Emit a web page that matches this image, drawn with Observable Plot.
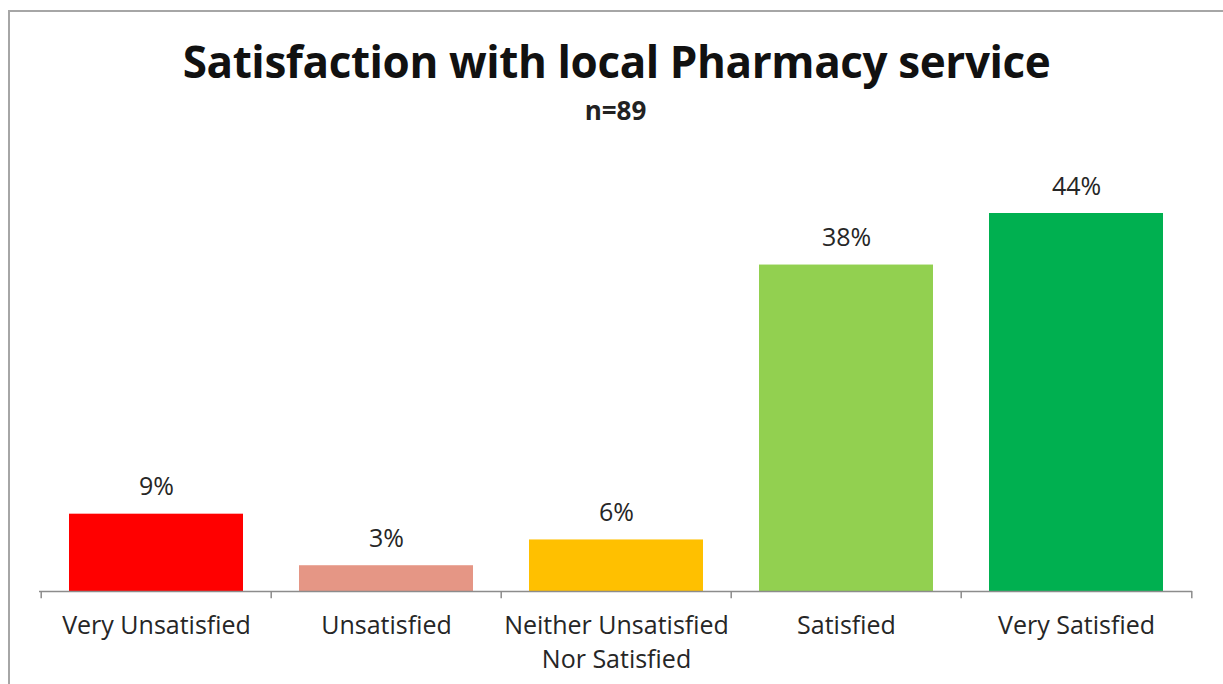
<!DOCTYPE html>
<html>
<head>
<meta charset="utf-8">
<script src="https://cdn.jsdelivr.net/npm/d3@7"></script>
<script src="https://cdn.jsdelivr.net/npm/@observablehq/plot@0.6"></script>
<style>
  html, body { margin: 0; padding: 0; background: #fff; }
  #wrap { position: relative; width: 1223px; height: 684px; overflow: hidden; font-family: "Open Sans", sans-serif; }
  #frame { position: absolute; left: 8px; top: 10px; width: 1300px; height: 800px; border-left: 2px solid #a6a6a6; border-top: 2px solid #a6a6a6; }
  #title { position: absolute; left: 0; width: 1233px; top: 39px; text-align: center; font-family: "Open Sans", sans-serif; font-weight: 700; font-size: 44px; color: #111; letter-spacing: -0.4px; line-height: 1; }
  #subtitle { position: absolute; left: 0; width: 1231px; top: 97px; text-align: center; font-family: "Open Sans", sans-serif; font-weight: 700; font-size: 26px; color: #222; line-height: 1; }
  #chart { position: absolute; left: 0; top: 140px; }
</style>
</head>
<body>
<div id="wrap">
  <div id="frame"></div>
  <div id="title">Satisfaction with local Pharmacy service</div>
  <div id="subtitle">n=89</div>
  <div id="chart"></div>
</div>
<script>
const categories = ["Very Unsatisfied", "Unsatisfied", "Neither Unsatisfied\nNor Satisfied", "Satisfied", "Very Satisfied"];
const values = [9, 3, 6, 38, 44];
const colors = ["#FF0000", "#E59685", "#FFC000", "#92D050", "#00B050"];

const data = categories.map((c, i) => ({category: c, value: values[i], color: colors[i]}));

const W = 1223, H = 544;
const mL = 39, mR = 31;
const step = (W - mL - mR) / categories.length;

const chart = Plot.plot({
  width: W,
  height: H,
  marginLeft: mL,
  marginRight: mR,
  marginTop: 73,
  marginBottom: 93,
  style: {fontFamily: "Open Sans, sans-serif", background: "transparent"},
  x: {domain: categories, paddingInner: 0.245, paddingOuter: 0.1225, label: null},
  y: {domain: [0, 44], axis: null},
  marks: [
    Plot.barY(data, {x: "category", y: "value", fill: "color"}),
    Plot.ruleY([0], {stroke: "#8c8c8c", strokeWidth: 1.5}),
    Plot.ruleX(categories, {x: d => d, dx: -step / 2, y1: 0, y2: -0.85, stroke: "#8c8c8c", strokeWidth: 1.5}),
    Plot.ruleX([categories[categories.length - 1]], {x: d => d, dx: step / 2, y1: 0, y2: -0.85, stroke: "#8c8c8c", strokeWidth: 1.5}),
    Plot.text(data, {x: "category", y: "value", text: d => d.value + "%", dy: -27, fontSize: 25, fill: "#262626"}),
    Plot.axisX({tickSize: 0, tickPadding: 18, fontSize: 25, lineHeight: 1.36, fill: "#262626", label: null})
  ]
});
document.getElementById("chart").appendChild(chart);
</script>
</body>
</html>
